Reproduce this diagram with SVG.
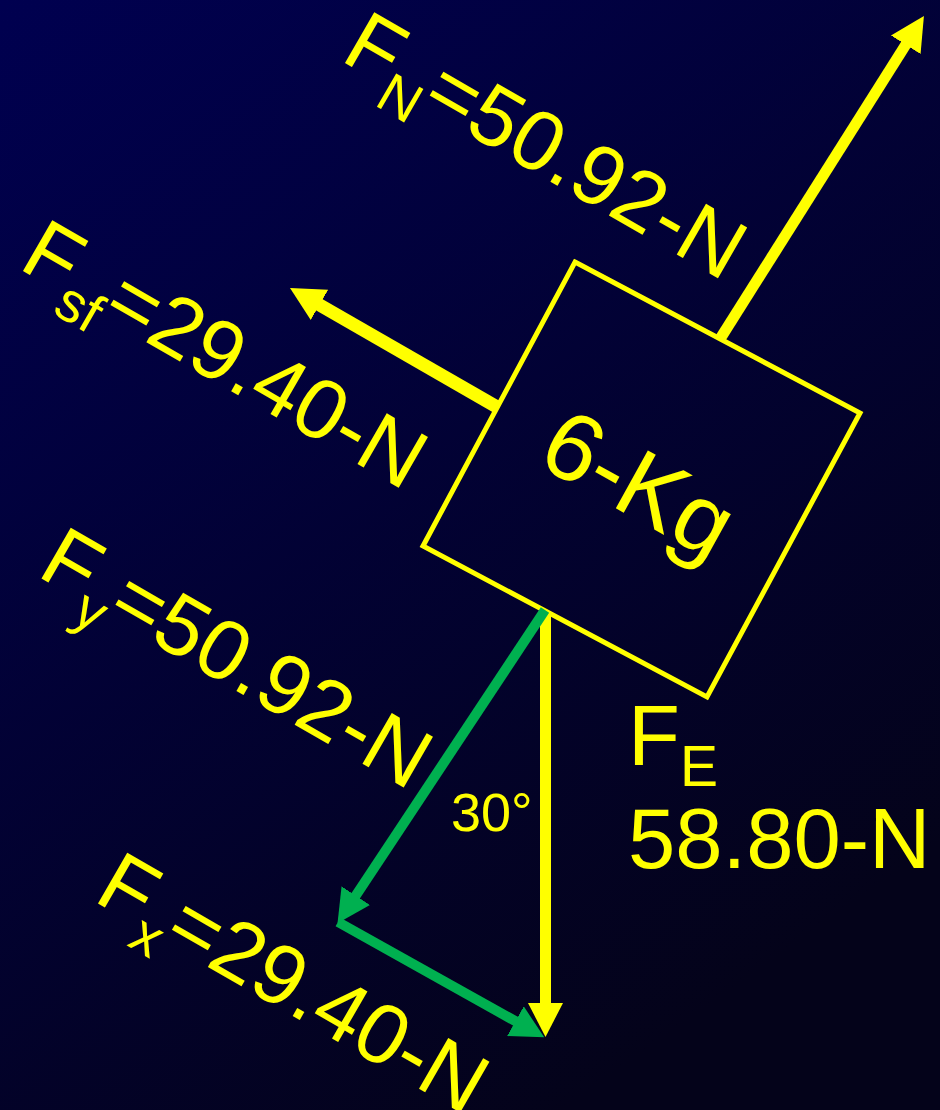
<svg xmlns="http://www.w3.org/2000/svg" width="940" height="1110" viewBox="0 0 940 1110">
  <defs>
    <linearGradient id="bg" x1="0" y1="0" x2="0.6" y2="1">
      <stop offset="0" stop-color="#000050"/>
      <stop offset="1" stop-color="#04031a"/>
    </linearGradient>
    <marker id="hy" markerUnits="userSpaceOnUse" markerWidth="40" markerHeight="40" viewBox="0 -20 40 40" refX="1" refY="0" orient="auto">
      <path d="M0,-17.5 L34,0 L0,17.5 Z" fill="#ffff00"/>
    </marker>
    <marker id="hg" markerUnits="userSpaceOnUse" markerWidth="40" markerHeight="40" viewBox="0 -20 40 40" refX="1" refY="0" orient="auto">
      <path d="M0,-17 L33,0 L0,17 Z" fill="#00b050"/>
    </marker>
    <style>
      .lbl { font-family: "Liberation Sans", Arial, sans-serif; fill: #ffff00; }
      .y { stroke: #ffff00; fill: none; }
      .g { stroke: #00b050; fill: none; stroke-width: 10; }
    </style>
  </defs>
  <rect x="0" y="0" width="940" height="1110" fill="url(#bg)"/>

  <g id="block">
    <polygon points="575,262 860,413 707,697 423,546" fill="none" stroke="#ffff00" stroke-width="5"/>
    <text class="lbl" transform="translate(641,480) rotate(29)" x="0" y="37" font-size="96" text-anchor="middle">6-Kg</text>
  </g>

  <g id="connectors">
    <line id="arrow-FN" class="y" x1="720" y1="339" x2="906.3" y2="43.9" stroke-width="11" marker-end="url(#hy)"/>
    <line id="arrow-Fsf" class="y" x1="497" y1="407" x2="318.6" y2="304.4" stroke-width="13" marker-end="url(#hy)"/>
    <line id="arrow-FE" class="y" x1="545.5" y1="611" x2="545.5" y2="1004" stroke-width="11" marker-end="url(#hy)"/>
    <line id="arrow-Fy" class="g" x1="545" y1="610" x2="355.2" y2="896.5" marker-end="url(#hg)"/>
    <line id="arrow-Fx" class="g" x1="338" y1="922" x2="516.3" y2="1021.7" marker-end="url(#hg)"/>
  </g>

  <g id="label-FN">
    <text class="lbl" transform="translate(339,59.5) rotate(30)" font-size="85">F<tspan font-size="56" dy="22">N</tspan><tspan dy="-22">=50.92-N</tspan></text>
  </g>
  <g id="label-Fsf">
    <text class="lbl" transform="translate(17,267.5) rotate(30)" font-size="85">F<tspan font-size="56" dy="22">sf</tspan><tspan dy="-22">=29.40-N</tspan></text>
  </g>
  <g id="label-Fy">
    <text class="lbl" transform="translate(35.6,575) rotate(30)" font-size="85">F<tspan font-size="56" dy="22">y</tspan><tspan dy="-22">=50.92-N</tspan></text>
  </g>
  <g id="label-Fx">
    <text class="lbl" transform="translate(92,900) rotate(30)" font-size="85">F<tspan font-size="56" dy="22">x</tspan><tspan dy="-22">=29.40-N</tspan></text>
  </g>
  <g id="label-FE">
    <text class="lbl" x="628" y="765" font-size="85">F<tspan font-size="57" dy="21">E</tspan></text>
    <text class="lbl" x="628" y="868" font-size="85">58.80-N</text>
  </g>
  <g id="label-angle">
    <text class="lbl" x="451" y="831" font-size="54">30°</text>
  </g>
</svg>
